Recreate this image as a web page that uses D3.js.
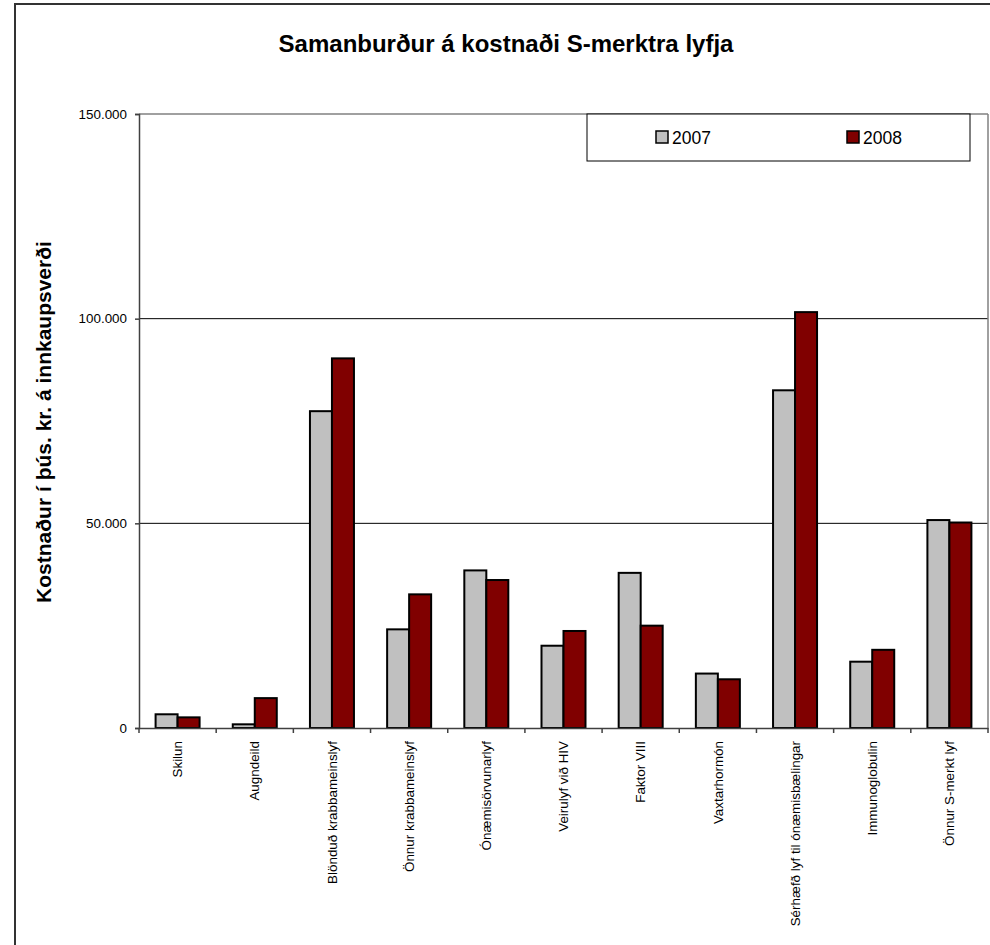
<!DOCTYPE html>
<html lang="en">
<head>
<meta charset="utf-8">
<title>Samanburður á kostnaði S-merktra lyfja</title>
<script src="https://d3js.org/d3.v7.min.js"></script>
<style>
  body { margin: 0; background: #fff; }
  text { font-family: "Liberation Sans", Arial, sans-serif; }
  .axis text { font-size: 13.4px; fill: #000; }
</style>
</head>
<body>
<div id="chart"></div>
<script>
// data (þús. kr.)
var categories = ["Skilun", "Augndeild", "Blönduð krabbameinslyf", "Önnur krabbameinslyf",
  "Ónæmisörvunarlyf", "Veirulyf við HIV", "Faktor VIII", "Vaxtarhormón",
  "Sérhæfð lyf til ónæmisbælingar", "Immunoglobulin", "Önnur S-merkt lyf"]
var years = ["2007", "2008"]
var values2007 = [3350, 900, 77400, 24100, 38500, 20100, 37900, 13300, 82500, 16200, 50800]
var values2008 = [2600, 7300, 90300, 32650, 36150, 23700, 25000, 11900, 101600, 19100, 50200]
var yTicks = [0, 50000, 100000, 150000]

drawChart()

function drawChart(){
  var w = 990, h = 945
  var pLeft = 139, pRight = 988, pTop = 114, pBottom = 728

  var svg = d3.select("#chart").append("svg")
    .attr("width", w).attr("height", h)

  // outer frame (only left and top show)
  svg.append("line").attr("x1", 14).attr("y1", 4).attr("x2", w).attr("y2", 4)
    .attr("stroke", "#333").attr("stroke-width", 2)
  svg.append("line").attr("x1", 15).attr("y1", 4).attr("x2", 15).attr("y2", h)
    .attr("stroke", "#333").attr("stroke-width", 2)

  var x = d3.scaleBand().domain(categories).range([pLeft, pRight])
  var xs = d3.scaleBand().domain(years).range([0, 44])
  var y = d3.scaleLinear().domain([0, 150000]).range([pBottom, pTop])
  var color = { "2007": "#c0c0c0", "2008": "#800000" }

  // grid
  svg.selectAll(".grid").data(yTicks.filter(function(d){ return d > 0 && d < 150000 }))
    .enter().append("line")
    .attr("x1", pLeft).attr("x2", pRight)
    .attr("y1", function(d){ return y(d) }).attr("y2", function(d){ return y(d) })
    .attr("stroke", "#000").attr("stroke-width", 1)

  // plot border top and right
  svg.append("line").attr("x1", pLeft).attr("x2", pRight).attr("y1", y(150000)).attr("y2", y(150000))
    .attr("stroke", "#808080").attr("stroke-width", 1.5)
  svg.append("line").attr("x1", pRight).attr("x2", pRight).attr("y1", pTop).attr("y2", pBottom)
    .attr("stroke", "#808080").attr("stroke-width", 1.5)

  // bars
  var rows = categories.map(function(c, i){
    return { cat: c, v: { "2007": values2007[i], "2008": values2008[i] } }
  })
  var groups = svg.selectAll(".grp").data(rows).enter().append("g")
    .attr("transform", function(d){ return "translate(" + (x(d.cat) + (x.bandwidth() - 44) / 2) + ",0)" })
  groups.selectAll("rect").data(function(d){ return years.map(function(yr){ return { yr: yr, v: d.v[yr] } }) })
    .enter().append("rect")
    .attr("x", function(d){ return xs(d.yr) })
    .attr("width", xs.bandwidth())
    .attr("y", function(d){ return y(d.v) })
    .attr("height", function(d){ return pBottom - y(d.v) })
    .attr("fill", function(d){ return color[d.yr] })
    .attr("stroke", "#000").attr("stroke-width", 2)

  // axes
  var yAxis = d3.axisLeft(y).tickValues(yTicks).tickSize(4).tickPadding(8)
    .tickFormat(function(d){ return d === 0 ? "0" : d3.format(",")(d).replace(/,/g, ".") })
  var gy = svg.append("g").attr("class", "axis").attr("transform", "translate(" + pLeft + ",0)").call(yAxis)
  gy.selectAll("path, line").attr("stroke", "#404040").attr("stroke-width", 1.5)

  var xAxis = d3.axisBottom(x).tickSize(0).tickPadding(0)
  var gx = svg.append("g").attr("class", "axis").attr("transform", "translate(0," + pBottom + ")").call(xAxis)
  gx.select("path").attr("stroke", "#404040").attr("stroke-width", 1.5)
  gx.selectAll("text")
    .attr("text-anchor", "end")
    .attr("x", 0).attr("y", 0).attr("dy", "0.35em")
    .attr("transform", "translate(0,13) rotate(-90)")
  // category separator ticks
  svg.selectAll(".sep").data(d3.range(categories.length + 1)).enter().append("line")
    .attr("x1", function(i){ return pLeft + i * x.step() }).attr("x2", function(i){ return pLeft + i * x.step() })
    .attr("y1", pBottom).attr("y2", pBottom + 5)
    .attr("stroke", "#404040").attr("stroke-width", 1.5)

  // titles
  svg.append("text").attr("x", 506).attr("y", 52).attr("text-anchor", "middle")
    .style("font-size", "24px").style("font-weight", "bold")
    .text("Samanburður á kostnaði S-merktra lyfja")
  svg.append("text").attr("transform", "translate(51,422) rotate(-90)").attr("text-anchor", "middle")
    .style("font-size", "21px").style("font-weight", "bold")
    .text("Kostnaður í þús. kr. á innkaupsverði")

  // legend
  var lg = svg.append("g").attr("transform", "translate(587,114)")
  lg.append("rect").attr("width", 383).attr("height", 47).attr("fill", "#fff")
    .attr("stroke", "#000").attr("stroke-width", 1)
  var items = lg.selectAll(".item").data(years).enter().append("g")
    .attr("transform", function(d, i){ return "translate(" + (69 + i * 191) + ",17)" })
  items.append("rect").attr("width", 12).attr("height", 12)
    .attr("fill", function(d){ return color[d] }).attr("stroke", "#000").attr("stroke-width", 1.5)
  items.append("text").attr("x", 16).attr("y", 12.5).style("font-size", "17.5px").text(function(d){ return d })
}
</script>
</body>
</html>
